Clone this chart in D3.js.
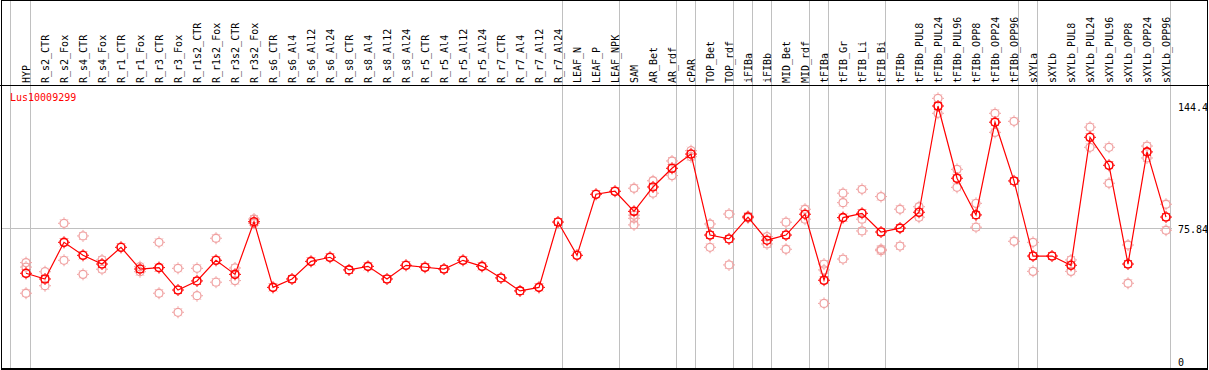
<!DOCTYPE html>
<html>
<head>
<meta charset="utf-8">
<script src="https://cdn.jsdelivr.net/npm/d3@7"></script>
<style>
  body { margin: 0; background: #fff; }
  svg { display: block; }
  text { font-family: "DejaVu Sans Mono", monospace; font-size: 10px; }
</style>
</head>
<body>
<svg id="chart" width="1209" height="370"></svg>
<script>
const geneName = "Lus10009299"

const samples = [
  "HYP", "R_s2_CTR", "R_s2_Fox", "R_s4_CTR", "R_s4_Fox", "R_r1_CTR", "R_r1_Fox",
  "R_r3_CTR", "R_r3_Fox", "R_r1s2_CTR", "R_r1s2_Fox", "R_r3s2_CTR", "R_r3s2_Fox",
  "R_s6_CTR", "R_s6_Al4", "R_s6_Al12", "R_s6_Al24", "R_s8_CTR", "R_s8_Al4", "R_s8_Al12",
  "R_s8_Al24", "R_r5_CTR", "R_r5_Al4", "R_r5_Al12", "R_r5_Al24", "R_r7_CTR", "R_r7_Al4",
  "R_r7_Al12", "R_r7_Al24", "LEAF_N", "LEAF_P", "LEAF_NPK", "SAM", "AR_Bet", "AR_rdf",
  "cPAR", "TOP_Bet", "TOP_rdf", "iFIBa", "iFIBb", "MID_Bet", "MID_rdf", "tFIBa",
  "tFIB_Gr", "tFIB_Li", "tFIB_Bi", "tFIBb", "tFIBb_PUL8", "tFIBb_PUL24", "tFIBb_PUL96",
  "tFIBb_OPP8", "tFIBb_OPP24", "tFIBb_OPP96", "sXYLa", "sXYLb", "sXYLb_PUL8",
  "sXYLb_PUL24", "sXYLb_PUL96", "sXYLb_OPP8", "sXYLb_OPP24", "sXYLb_OPP96"
]

const means = [
  50.4, 47.2, 67.8, 60.5, 55.6, 65.0, 52.8, 53.6, 41.0, 46.1, 57.7, 49.8, 79.4,
  42.5, 47.2, 57.1, 59.4, 52.3, 54.3, 47.2, 54.9, 53.8, 52.8, 57.7, 54.3, 47.8, 40.5,
  42.5, 79.2, 60.5, 94.8, 96.5, 85.2, 98.9, 109.4, 117.4, 71.9, 69.7, 82.0, 69.0, 71.9,
  83.6, 46.5, 81.7, 84.1, 73.6, 75.8, 84.7, 144.4, 103.8, 83.2, 135.3, 102.3, 60.1,
  60.1, 54.9, 126.8, 111.1, 55.6, 118.6, 82.0
]

const replicates = [
  [56.4, 53.9, 39.2], [51.3, 43.4], [78.5, 57.7], [71.4, 49.8], [57.9, 52.7], [],
  [54.1, 51.3], [67.8, 39.2], [53.2, 28.5], [53.2, 37.8], [70.1, 45.4], [53.4, 46.3],
  [80.9, 78.5], [], [], [], [], [], [], [], [], [], [], [], [], [], [], [], [], [], [], [],
  [98.2, 83.1, 81.3, 77.6], [102.4, 95.4], [113.5, 105.3], [119.3, 115.9], [78.1, 65.0],
  [83.7, 55.1], [82.5, 81.5], [71.0, 66.9], [79.1, 63.9], [86.4, 80.8], [55.6, 52.3, 33.5],
  [95.4, 90.1, 58.4], [97.6, 80.8, 74.2], [93.5, 63.9, 63.1], [86.4, 65.7], [87.8, 81.9],
  [148.7, 140.3], [108.8, 98.7], [89.7, 76.3], [140.3, 129.6], [135.8, 68.4], [67.8, 51.5],
  [], [57.9, 51.5], [132.5, 121.2], [121.2, 101.0], [66.3, 44.8], [121.9, 115.2], [89.2, 74.6]
]

// last sample of each tissue group, a separator is drawn after it
const groupEnds = ["HYP", "R_r7_Al24", "LEAF_NPK", "AR_rdf", "cPAR", "TOP_rdf", "iFIBa",
  "iFIBb", "MID_rdf", "tFIBa", "tFIB_Bi", "tFIBb_OPP96", "sXYLa", "sXYLb_OPP96"]

const yTicks = [0, 75.84, 144.4]
const gridValues = [75.84]

const W = 1209, H = 370
const headerY = 85.5
const svg = d3.select("#chart")

const x = d3.scalePoint()
  .domain(samples)
  .range([26, 1166])

const y = d3.scaleLinear()
  .domain([0, 144.4])
  .range([363, 106])

const grid = svg.append("g").attr("shape-rendering", "crispEdges")
grid.append("line")
  .attr("x1", 10.5).attr("x2", 10.5)
  .attr("y1", 0).attr("y2", H)
  .attr("stroke", "#c0c0c0")
grid.selectAll(".sep")
  .data(groupEnds)
  .join("line")
  .attr("class", "sep")
  .attr("x1", d => Math.round(x(d) + 4) + 0.5)
  .attr("x2", d => Math.round(x(d) + 4) + 0.5)
  .attr("y1", 0).attr("y2", H)
  .attr("stroke", "#c0c0c0")
grid.selectAll(".hgrid")
  .data(gridValues)
  .join("line")
  .attr("class", "hgrid")
  .attr("x1", 1).attr("x2", 1172)
  .attr("y1", d => Math.round(y(d)) + 0.5)
  .attr("y2", d => Math.round(y(d)) + 0.5)
  .attr("stroke", "#c0c0c0")

// frame and header rule
const frame = svg.append("g").attr("shape-rendering", "crispEdges")
frame.append("rect")
  .attr("x", 1.5).attr("y", 0.5)
  .attr("width", W - 3).attr("height", H - 1.5)
  .attr("fill", "none").attr("stroke", "#000").attr("stroke-width", 1.5)
frame.append("line")
  .attr("x1", 0).attr("x2", W)
  .attr("y1", headerY).attr("y2", headerY)
  .attr("stroke", "#000").attr("stroke-width", 1.5)

svg.append("g")
  .selectAll("text")
  .data(samples)
  .join("text")
  .attr("transform", d => `translate(${x(d) + 4}, 83) rotate(-90)`)
  .attr("fill", "#000")
  .text(d => d)

svg.append("text")
  .attr("x", 10).attr("y", 101)
  .attr("fill", "#ff0000")
  .text(geneName)

svg.append("g")
  .selectAll("text")
  .data(yTicks)
  .join("text")
  .attr("x", 1178)
  .attr("y", d => Math.min(y(d) + 5, 365.5))
  .attr("fill", "#000")
  .text(d => d)

const drawMarker = (g, color, sw) => {
  g.append("circle")
    .attr("r", 4)
    .attr("fill", "none")
    .attr("stroke", color)
    .attr("stroke-width", sw)
  d3.range(8).forEach(k => {
    const a = k * Math.PI / 4
    const r0 = 4.5, r1 = k % 2 ? 5.5 : 6
    g.append("line")
      .attr("x1", r0 * Math.cos(a)).attr("y1", r0 * Math.sin(a))
      .attr("x2", r1 * Math.cos(a)).attr("y2", r1 * Math.sin(a))
      .attr("stroke", color)
      .attr("stroke-width", 1)
  })
}

const repPoints = replicates.flatMap((vals, i) => vals.map(v => ({ s: samples[i], v })))
svg.append("g")
  .selectAll("g")
  .data(repPoints)
  .join("g")
  .attr("transform", d => `translate(${x(d.s)}, ${y(d.v)})`)
  .each(function() { drawMarker(d3.select(this), "#f0a0a0", 1.3) })

svg.append("path")
  .datum(means)
  .attr("fill", "none")
  .attr("stroke", "#ff0000")
  .attr("stroke-width", 1.2)
  .attr("d", d3.line().x((d, i) => x(samples[i])).y(d => y(d)))

svg.append("g")
  .selectAll("g")
  .data(means)
  .join("g")
  .attr("transform", (d, i) => `translate(${x(samples[i])}, ${y(d)})`)
  .each(function() { drawMarker(d3.select(this), "#ff0000", 1.6) })
</script>
</body>
</html>
